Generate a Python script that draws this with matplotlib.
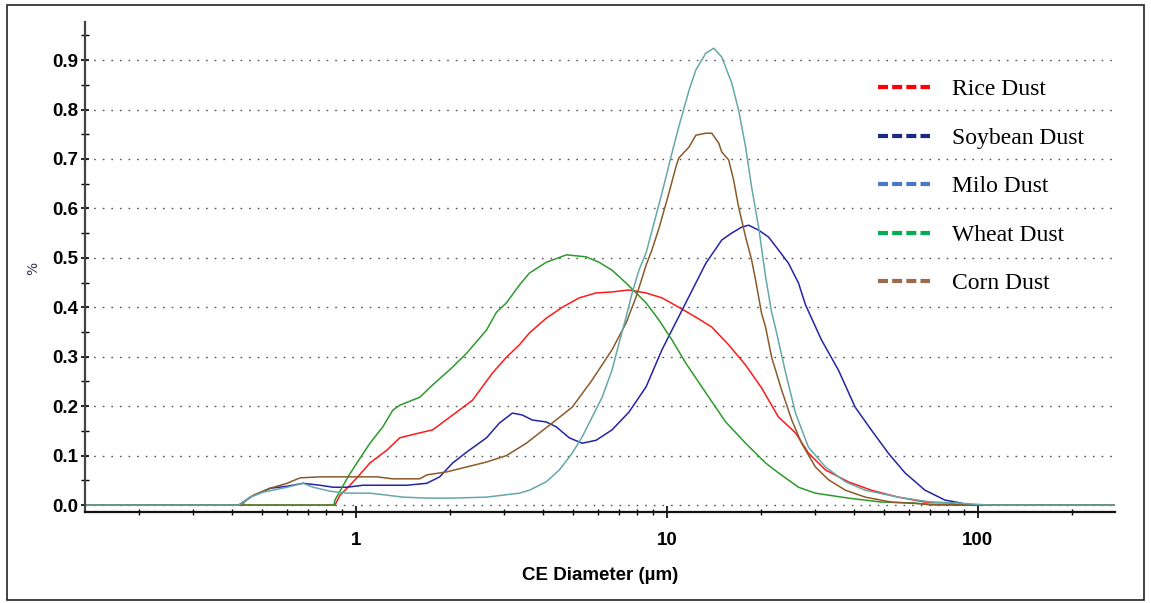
import matplotlib
matplotlib.use("Agg")
import matplotlib.pyplot as plt
from matplotlib.lines import Line2D
from matplotlib.patches import Rectangle
from matplotlib.ticker import LogLocator, FixedLocator, MultipleLocator, NullFormatter

# Particle size distributions (diameter in um, value in %)
rice_d = [0.135, 0.856, 0.889, 0.943, 1.007, 1.109, 1.257, 1.384, 1.604, 1.765,
          2.046, 2.371, 2.748, 3.048, 3.355, 3.611, 4.094, 4.61, 5.22, 5.92,
          6.66, 7.55, 8.57, 9.64, 10.92, 12.39, 13.94, 15.80, 17.91, 20.15,
          22.84, 25.91, 28.52, 32.34, 38.3, 45.4, 55.4, 67.6, 81.9, 86.3, 276]
rice_v = [0, 0, 0.020, 0.036, 0.055, 0.085, 0.111, 0.136, 0.146, 0.152,
          0.182, 0.212, 0.267, 0.299, 0.324, 0.348, 0.378, 0.400, 0.419, 0.429,
          0.431, 0.435, 0.429, 0.419, 0.400, 0.380, 0.360, 0.324, 0.283, 0.237,
          0.178, 0.146, 0.105, 0.071, 0.047, 0.030, 0.016, 0.006, 0.004, 0.0, 0]

soy_d = [0.135, 0.42, 0.434, 0.457, 0.530, 0.601, 0.676, 0.767, 0.844, 0.936,
         1.053, 1.257, 1.457, 1.690, 1.859, 2.046, 2.269, 2.630, 2.895, 3.186,
         3.43, 3.69, 4.094, 4.41, 4.85, 5.34, 5.92, 6.66, 7.55, 8.57,
         9.64, 10.38, 11.50, 13.34, 15.01, 16.15, 17.39, 18.32, 19.72, 21.23,
         22.84, 24.6, 26.49, 27.9, 31.4, 35.6, 40.3, 45.4, 51.5, 58.3,
         67.6, 78.4, 88.3, 92, 276]
soy_v = [0, 0, 0.006, 0.016, 0.034, 0.038, 0.044, 0.040, 0.036, 0.036,
         0.040, 0.040, 0.040, 0.044, 0.057, 0.085, 0.107, 0.136, 0.166, 0.186,
         0.182, 0.172, 0.168, 0.158, 0.136, 0.125, 0.131, 0.152, 0.188, 0.239,
         0.314, 0.354, 0.409, 0.489, 0.536, 0.550, 0.562, 0.566, 0.556, 0.542,
         0.516, 0.489, 0.449, 0.405, 0.334, 0.273, 0.198, 0.152, 0.105, 0.065,
         0.030, 0.010, 0.004, 0.0, 0]

milo_d = [0.135, 0.42, 0.431, 0.457, 0.503, 0.601, 0.676, 0.728, 0.825, 0.936,
          1.109, 1.257, 1.415, 1.690, 2.046, 2.630, 3.355, 3.611, 4.094, 4.51,
          4.96, 5.34, 5.75, 6.19, 6.66, 7.02, 7.39, 7.73, 8.13, 8.57,
          9.64, 10.38, 10.92, 11.78, 12.39, 13.34, 14.15, 15.01, 16.15, 17.0,
          17.91, 18.72, 19.72, 20.76, 21.71, 22.4, 24.1, 25.91, 28.52, 32.34,
          37.5, 43.4, 55.4, 70.7, 86.3, 107.7, 276]
milo_v = [0, 0, 0.004, 0.016, 0.026, 0.036, 0.044, 0.036, 0.028, 0.024,
          0.024, 0.020, 0.016, 0.014, 0.014, 0.016, 0.024, 0.030, 0.047, 0.071,
          0.105, 0.138, 0.178, 0.218, 0.273, 0.328, 0.380, 0.429, 0.475, 0.510,
          0.631, 0.712, 0.765, 0.839, 0.880, 0.914, 0.924, 0.906, 0.854, 0.799,
          0.724, 0.643, 0.562, 0.462, 0.39, 0.355, 0.267, 0.186, 0.117, 0.077,
          0.047, 0.030, 0.016, 0.006, 0.004, 0.0, 0]

wheat_d = [0.135, 0.850, 0.856, 0.943, 1.007, 1.109, 1.220, 1.314, 1.384, 1.604,
           1.765, 2.046, 2.269, 2.630, 2.832, 3.048, 3.355, 3.611, 4.094, 4.75,
           5.50, 6.05, 6.66, 7.39, 7.96, 8.57, 9.43, 10.38, 11.50, 13.34,
           15.45, 17.91, 20.76, 22.84, 26.49, 30.03, 38.3, 48.9, 62.8, 70.7, 276]
wheat_v = [0, 0, 0.010, 0.057, 0.085, 0.125, 0.158, 0.192, 0.202, 0.218,
           0.243, 0.279, 0.307, 0.354, 0.390, 0.409, 0.445, 0.469, 0.491, 0.506,
           0.502, 0.491, 0.475, 0.449, 0.429, 0.409, 0.374, 0.334, 0.287, 0.227,
           0.168, 0.125, 0.085, 0.065, 0.036, 0.024, 0.014, 0.006, 0.004, 0.0, 0]

corn_d = [0.135, 0.43, 0.441, 0.468, 0.530, 0.601, 0.661, 0.767, 0.869, 1.007,
          1.168, 1.314, 1.604, 1.690, 1.958, 2.269, 2.630, 3.048, 3.53, 4.28,
          4.96, 5.75, 6.66, 7.39, 7.96, 8.57, 8.95, 9.43, 10.15, 10.69,
          10.92, 11.78, 12.39, 13.34, 13.94, 14.68, 15.01, 15.80, 16.39, 17.0,
          17.91, 18.72, 19.28, 20.15, 20.76, 21.71, 23.37, 25.2, 27.1, 30.03,
          33.1, 37.5, 43.4, 52.6, 67.6, 84.4, 276]
corn_v = [0, 0, 0.008, 0.020, 0.034, 0.044, 0.055, 0.057, 0.057, 0.057,
          0.057, 0.053, 0.053, 0.061, 0.067, 0.077, 0.087, 0.100, 0.125, 0.166,
          0.198, 0.253, 0.314, 0.368, 0.421, 0.485, 0.516, 0.56, 0.631, 0.684,
          0.702, 0.724, 0.748, 0.752, 0.752, 0.732, 0.714, 0.698, 0.657, 0.603,
          0.542, 0.496, 0.455, 0.388, 0.360, 0.299, 0.233, 0.172, 0.125, 0.077,
          0.051, 0.030, 0.016, 0.006, 0.002, 0.0, 0]

labels = ["Rice Dust", "Soybean Dust", "Milo Dust", "Wheat Dust", "Corn Dust"]
line_colors = ["#FF1A1A", "#2424A6", "#66A8A8", "#2E9A2E", "#8B5A2B"]
legend_colors = ["#FF0000", "#1B2A80", "#4A78C8", "#00B050", "#9C6B4E"]

W, H = 1151, 603
fig = plt.figure(figsize=(W / 100, H / 100), dpi=100)
ax = fig.add_axes([85 / W, 1 - 512.2 / H, 1030 / W, 490.7 / H])

series = {
    "Rice Dust": (rice_d, rice_v),
    "Soybean Dust": (soy_d, soy_v),
    "Wheat Dust": (wheat_d, wheat_v),
    "Corn Dust": (corn_d, corn_v),
    "Milo Dust": (milo_d, milo_v),
}
for name, (d, v) in series.items():
    ax.plot(d, v, color=line_colors[labels.index(name)], linewidth=1.1)

ax.set_xscale("log")
ax.set_xlim(0.1345, 276)
ax.set_ylim(-0.0145, 0.978)

# Ticks
ax.xaxis.set_major_locator(FixedLocator([1, 10, 100]))
ax.set_xticklabels(["1", "10", "100"])
ax.xaxis.set_minor_locator(LogLocator(base=10, subs=range(2, 10), numticks=20))
ax.xaxis.set_minor_formatter(NullFormatter())
ax.yaxis.set_major_locator(MultipleLocator(0.1))
ax.yaxis.set_minor_locator(MultipleLocator(0.05))
ax.yaxis.set_major_formatter(plt.FormatStrFormatter("%.1f"))

tick_font = dict(family="Liberation Sans", weight="bold", size=13.5)
for lab in ax.get_xticklabels() + ax.get_yticklabels():
    lab.set_fontproperties(matplotlib.font_manager.FontProperties(**tick_font))

ax.tick_params(axis="x", which="major", direction="inout", length=8, width=1.2, pad=10.5)
ax.tick_params(axis="x", which="minor", direction="inout", length=5, width=1.0)
ax.tick_params(axis="y", which="major", direction="inout", length=6, width=1.2, pad=2)
ax.tick_params(axis="y", which="minor", direction="inout", length=6, width=1.0)

ax.grid(True, axis="y", which="major", color="#555555", linewidth=1.0,
        linestyle=(0, (1.2, 5)))

for side in ["top", "right"]:
    ax.spines[side].set_visible(False)
ax.spines["left"].set_color("#444444")
ax.spines["left"].set_linewidth(1.6)
ax.spines["bottom"].set_color("#111111")
ax.spines["bottom"].set_linewidth(1.6)

ax.set_xlabel("CE Diameter (\u00b5m)", family="Liberation Sans", weight="bold",
              size=13.5, labelpad=13)
ax.set_ylabel("%", size=10, color="#333355")
ax.yaxis.set_label_coords(-0.0437, 0.497)

# Legend with its own colours (differ from the traces in the original)
handles = [Line2D([], [], color=c, linewidth=3, linestyle=(0, (2.4, 1.0)))
           for c in legend_colors]
ax.legend(handles, labels, loc="upper left", bbox_to_anchor=(0.770, 0.883),
          frameon=False, borderpad=0, borderaxespad=0, handlelength=2.2,
          handletextpad=0.95, labelspacing=1.14,
          prop=dict(family="Liberation Serif", size=17))

# Border around the whole picture
fig.patches.append(Rectangle((7 / W, 3 / H), 1137 / W, 595 / H, transform=fig.transFigure,
                             fill=False, edgecolor="#222222", linewidth=1.2))

fig.savefig("out.png", dpi=100)
